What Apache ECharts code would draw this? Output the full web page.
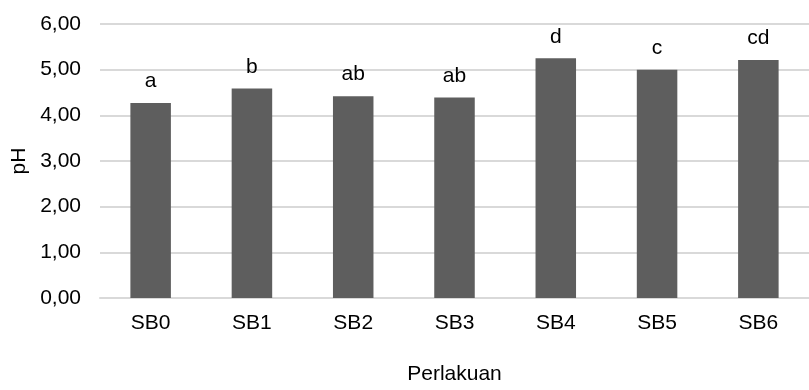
<!DOCTYPE html>
<html>
<head>
<meta charset="utf-8">
<script src="https://cdn.jsdelivr.net/npm/echarts@6/dist/echarts.min.js"></script>
<style>
html,body{margin:0;padding:0;background:#fff;}
#chart{width:809px;height:390px;}
</style>
</head>
<body>
<div id="chart"></div>
<script>
const categories = ['SB0','SB1','SB2','SB3','SB4','SB5','SB6'];
const phValues = [4.27, 4.59, 4.42, 4.39, 5.25, 5.00, 5.21];
const letters = ['a','b','ab','ab','d','c','cd'];
const yTicks = [0, 1, 2, 3, 4, 5, 6];

const FONT = 'Liberation Sans, Arial, sans-serif';
const chart = echarts.init(document.getElementById('chart'), null, {renderer:'canvas'});
chart.setOption({
  animation: false,
  backgroundColor: '#ffffff',
  grid: {left: 100, right: -10, top: 24, bottom: 84.5, containLabel: false},
  xAxis: {
    type: 'category',
    data: categories,
    name: 'Perlakuan',
    nameLocation: 'middle',
    nameGap: 66,
    nameTextStyle: {fontFamily: FONT, fontSize: 21, color: '#000'},
    axisLine: {show: true, lineStyle: {color: '#d9d9d9', width: 2}},
    axisTick: {show: false},
    axisLabel: {fontFamily: FONT, fontSize: 21, color: '#000', margin: 15}
  },
  yAxis: {
    type: 'value',
    min: yTicks[0],
    max: yTicks[yTicks.length-1],
    interval: 1,
    name: 'pH',
    nameLocation: 'middle',
    nameGap: 67,
    nameRotate: 90,
    nameTextStyle: {fontFamily: FONT, fontSize: 21, color: '#000'},
    axisLine: {show: false},
    axisTick: {show: false},
    splitLine: {lineStyle: {color: '#d9d9d9', width: 2}},
    axisLabel: {
      fontFamily: FONT, fontSize: 21, color: '#000', margin: 19,
      formatter: v => v.toFixed(2).replace('.', ',')
    }
  },
  series: [{
    type: 'bar',
    data: phValues,
    barWidth: '40%',
    itemStyle: {color: '#5e5e5e'},
    label: {
      show: true,
      position: 'top',
      distance: 11,
      fontFamily: FONT,
      fontSize: 21,
      color: '#000',
      formatter: p => letters[p.dataIndex]
    }
  }]
});
</script>
</body>
</html>
